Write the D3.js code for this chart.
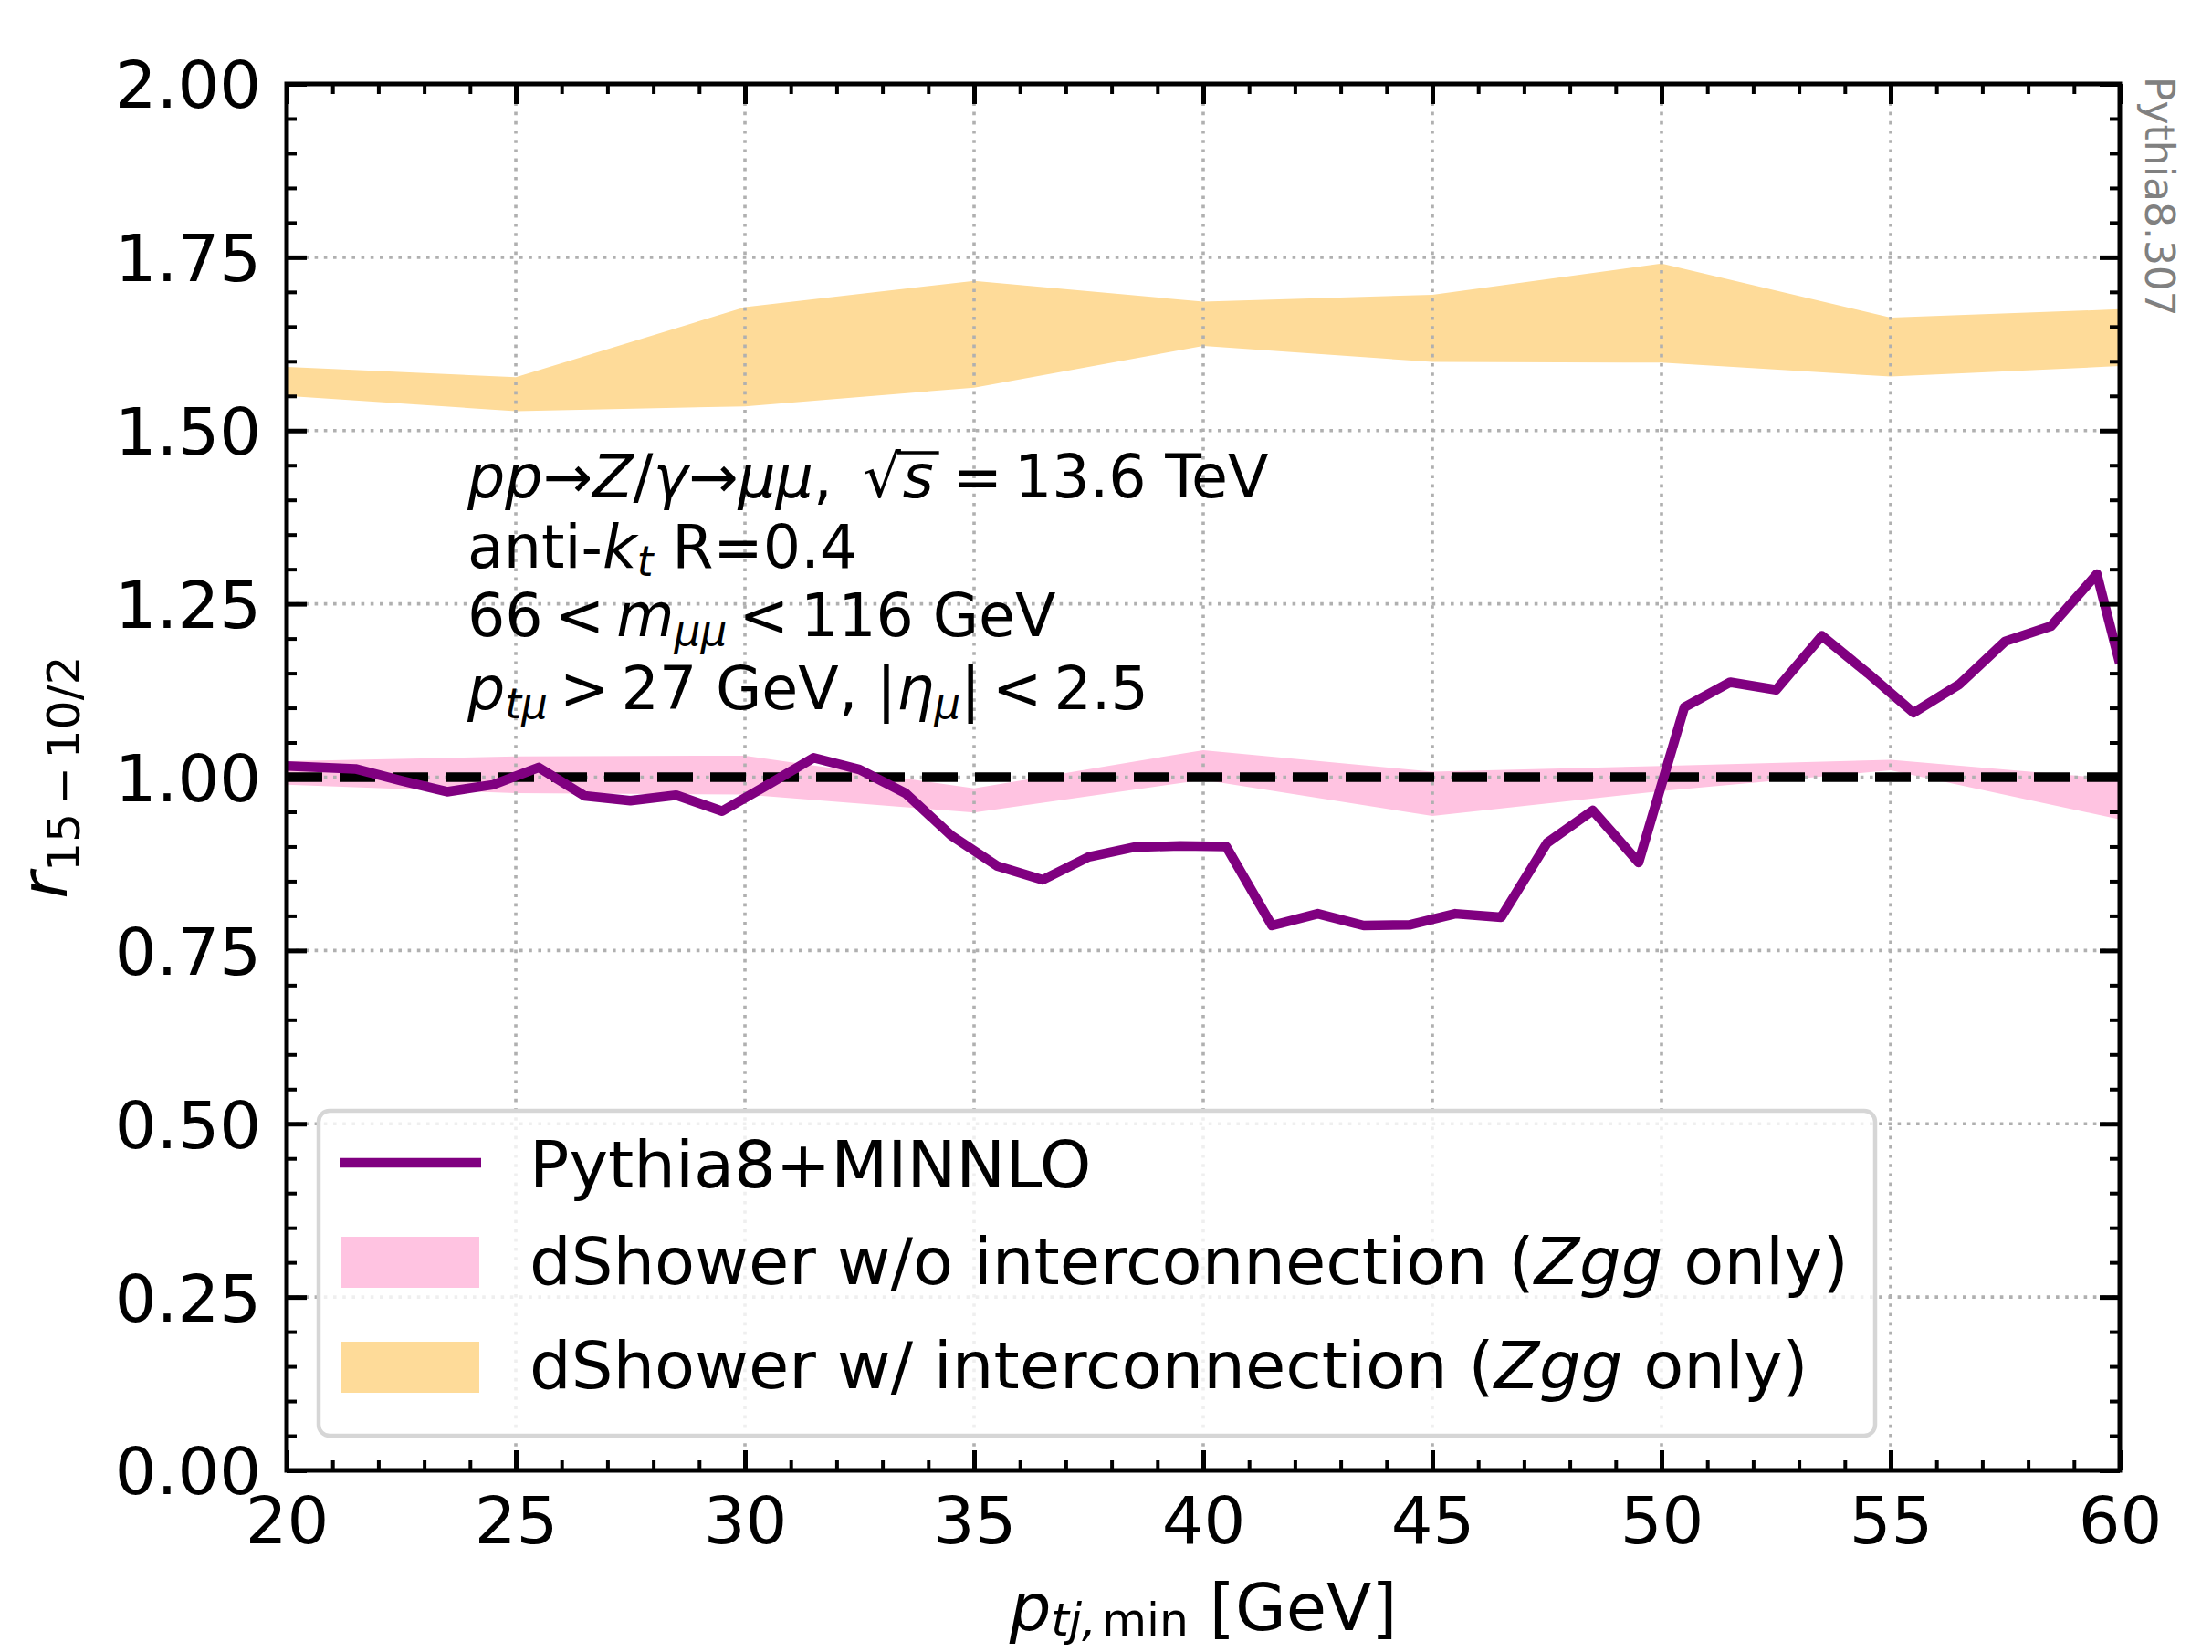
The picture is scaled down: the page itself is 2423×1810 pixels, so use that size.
<!DOCTYPE html>
<html>
<head>
<meta charset="utf-8">
<script src="https://cdn.jsdelivr.net/npm/d3@7"></script>
<style>
  body { margin: 0; background: #ffffff; }
  text { font-family: "DejaVu Sans", "Noto Sans", sans-serif; white-space: pre; }
</style>
</head>
<body>
<svg id="chart" width="2423" height="1810"></svg>
<script>
// ---- data -------------------------------------------------------------
// dShower bands are given at the 5 GeV grid points
const bandX = [20, 25, 30, 35, 40, 45, 50, 55, 60];
const withInterLow  = [1.550, 1.528, 1.535, 1.562, 1.622, 1.599, 1.598, 1.578, 1.593];
const withInterHigh = [1.592, 1.577, 1.678, 1.716, 1.686, 1.696, 1.741, 1.663, 1.675];
const noInterLow    = [0.989, 0.977, 0.975, 0.949, 0.996, 0.944, 0.980, 1.010, 0.939];
const noInterHigh   = [1.023, 1.030, 1.031, 0.984, 1.039, 1.008, 1.016, 1.025, 0.997];

// Pythia8+MINNLO ratio, 1 GeV bins
const minnloX = [20, 21.5, 22.5, 23.5, 24.5, 25.5, 26.5, 27.5, 28.5, 29.5, 30.5,
                 31.5, 32.5, 33.5, 34.5, 35.5, 36.5, 37.5, 38.5, 39.5, 40.5,
                 41.5, 42.5, 43.5, 44.5, 45.5, 46.5, 47.5, 48.5, 49.5, 50.5,
                 51.5, 52.5, 53.5, 54.5, 55.5, 56.5, 57.5, 58.5, 59.5, 60];
const minnloY = [1.016, 1.012, 0.995, 0.979, 0.989, 1.014, 0.973, 0.966, 0.974, 0.951, 0.989,
                 1.028, 1.011, 0.977, 0.916, 0.872, 0.852, 0.885, 0.899, 0.901, 0.900,
                 0.786, 0.803, 0.786, 0.787, 0.803, 0.798, 0.905, 0.952, 0.877, 1.101,
                 1.137, 1.126, 1.204, 1.150, 1.093, 1.134, 1.196, 1.218, 1.293, 1.164];

const xTicks = [20, 25, 30, 35, 40, 45, 50, 55, 60];
const yTicks = [0, 0.25, 0.5, 0.75, 1.0, 1.25, 1.5, 1.75, 2.0];
const yTickLabels = ["0.00", "0.25", "0.50", "0.75", "1.00", "1.25", "1.50", "1.75", "2.00"];

// ---- setup ------------------------------------------------------------
const svg = d3.select("#chart");
const L = 314, R = 2322, T = 92, B = 1611;
const x = d3.scaleLinear().domain([20, 60]).range([L, R]);
const y = d3.scaleLinear().domain([0, 2]).range([B, T]);

const colPurple = "#800080";
const colPink = "rgb(255,195,225)";
const colOrange = "rgb(254,219,153)";
const TICKFONT = 72;

svg.append("rect").attr("width", 2423).attr("height", 1810).attr("fill", "#ffffff");

svg.append("defs").append("clipPath").attr("id", "plotclip")
  .append("rect").attr("x", L).attr("y", T).attr("width", R - L).attr("height", B - T);

const plot = svg.append("g").attr("clip-path", "url(#plotclip)");

// ---- bands ------------------------------------------------------------
const band = (lo, hi) => d3.area()
  .x((d, i) => x(bandX[i]))
  .y0((d, i) => y(lo[i]))
  .y1((d, i) => y(hi[i]));

plot.append("path").attr("d", band(withInterLow, withInterHigh)(bandX))
  .attr("fill", colOrange);
plot.append("path").attr("d", band(noInterLow, noInterHigh)(bandX))
  .attr("fill", colPink);

// ---- grid (drawn over the filled bands, under the lines) -------------
const grid = plot.append("g").attr("stroke", "#b0b0b0").attr("stroke-width", 3.6)
  .attr("stroke-dasharray", "3.6,6.6");
grid.selectAll("line.gx").data(xTicks).join("line").attr("class", "gx")
  .attr("x1", d => x(d)).attr("x2", d => x(d)).attr("y1", T).attr("y2", B);
grid.selectAll("line.gy").data(yTicks).join("line").attr("class", "gy")
  .attr("x1", L).attr("x2", R).attr("y1", d => y(d)).attr("y2", d => y(d));

// ---- reference line at 1 and MINNLO curve ----------------------------
plot.append("line").attr("x1", x(20)).attr("x2", x(60)).attr("y1", y(1)).attr("y2", y(1))
  .attr("stroke", "#000").attr("stroke-width", 10.5).attr("stroke-dasharray", "39,19");

const line = d3.line().x((d, i) => x(minnloX[i])).y(d => y(d));
plot.append("path").attr("d", line(minnloY)).attr("fill", "none")
  .attr("stroke", colPurple).attr("stroke-width", 10.5).attr("stroke-linejoin", "round");

// ---- axes -------------------------------------------------------------
const minorX = d3.range(20, 60.001, 1).filter(v => v % 5 !== 0);
const minorY = d3.range(0, 2.0001, 0.05).map(v => +v.toFixed(2))
  .filter(v => Math.abs(v / 0.25 - Math.round(v / 0.25)) > 1e-6);

function styleAxis(g) {
  g.select(".domain").remove();
  g.selectAll(".tick line").attr("stroke", "#000");
  g.selectAll(".tick text").attr("fill", "#000").attr("font-size", TICKFONT)
    .attr("font-family", "DejaVu Sans");
}

// bottom
svg.append("g").attr("transform", `translate(0,${B})`)
  .call(d3.axisBottom(x).tickValues(xTicks).tickFormat(d3.format("d"))
    .tickSizeInner(-22).tickSizeOuter(0).tickPadding(29))
  .call(styleAxis).call(g => g.selectAll(".tick line").attr("stroke-width", 5));
svg.append("g").attr("transform", `translate(0,${B})`)
  .call(d3.axisBottom(x).tickValues(minorX).tickFormat("").tickSizeInner(-11).tickSizeOuter(0))
  .call(styleAxis).call(g => g.selectAll(".tick line").attr("stroke-width", 4));
// top
svg.append("g").attr("transform", `translate(0,${T})`)
  .call(d3.axisTop(x).tickValues(xTicks).tickFormat("").tickSizeInner(-22).tickSizeOuter(0))
  .call(styleAxis).call(g => g.selectAll(".tick line").attr("stroke-width", 5));
svg.append("g").attr("transform", `translate(0,${T})`)
  .call(d3.axisTop(x).tickValues(minorX).tickFormat("").tickSizeInner(-11).tickSizeOuter(0))
  .call(styleAxis).call(g => g.selectAll(".tick line").attr("stroke-width", 4));
// left
svg.append("g").attr("transform", `translate(${L},0)`)
  .call(d3.axisLeft(y).tickValues(yTicks).tickFormat((d, i) => yTickLabels[i])
    .tickSizeInner(-22).tickSizeOuter(0).tickPadding(28))
  .call(styleAxis).call(g => g.selectAll(".tick line").attr("stroke-width", 5))
  .call(g => g.selectAll(".tick text").attr("dy", "0.36em"));
svg.append("g").attr("transform", `translate(${L},0)`)
  .call(d3.axisLeft(y).tickValues(minorY).tickFormat("").tickSizeInner(-11).tickSizeOuter(0))
  .call(styleAxis).call(g => g.selectAll(".tick line").attr("stroke-width", 4));
// right
svg.append("g").attr("transform", `translate(${R},0)`)
  .call(d3.axisRight(y).tickValues(yTicks).tickFormat("").tickSizeInner(-22).tickSizeOuter(0))
  .call(styleAxis).call(g => g.selectAll(".tick line").attr("stroke-width", 5));
svg.append("g").attr("transform", `translate(${R},0)`)
  .call(d3.axisRight(y).tickValues(minorY).tickFormat("").tickSizeInner(-11).tickSizeOuter(0))
  .call(styleAxis).call(g => g.selectAll(".tick line").attr("stroke-width", 4));

// frame
svg.append("rect").attr("x", L).attr("y", T).attr("width", R - L).attr("height", B - T)
  .attr("fill", "none").attr("stroke", "#000").attr("stroke-width", 5);

// ---- rich text helper (italic runs, subscripts, gaps) -----------------
function richText(parent, x0, y0, runs, size, subShift) {
  const g = parent.append("g");
  const drop = subShift === undefined ? size * 0.16 : subShift;
  let cx = x0;
  const placed = [];
  runs.forEach(r => {
    if (r.gap !== undefined) { cx += r.gap * size; return; }
    const fs = r.sub ? size * 0.7 : size;
    const t = g.append("text")
      .attr("x", cx).attr("y", y0 + (r.sub ? drop : 0))
      .attr("font-size", fs)
      .attr("font-style", r.it ? "italic" : "normal")
      .attr("fill", "#000")
      .attr("xml:space", "preserve")
      .text(r.t);
    const w = t.node().getComputedTextLength();
    placed.push({ x0: cx, x1: cx + w, run: r, node: t });
    cx += w;
  });
  return { g, width: cx - x0, placed };
}

// ---- process annotation ------------------------------------------------
const ANN = 65, annX = 512, REL = 0.2;
const l1 = richText(svg, annX, 545, [
  { t: "pp", it: true }, { t: "→" }, { t: "Z", it: true }, { t: "/" }, { t: "γ", it: true },
  { t: "→" }, { t: "μμ", it: true }, { t: ", " }, { gap: 0.2 },
  { t: "√" }, { gap: 0.03 }, { t: "s", it: true, root: true }, { gap: 0.12 + REL }, { t: "=" }, { gap: REL },
  { t: "13.6" }, { t: " TeV" }
], ANN);
const sRun = l1.placed.find(p => p.run.root);
const rootRun = l1.placed.find(p => p.run.t === "√");
svg.append("line").attr("x1", rootRun.x1 - 4).attr("x2", sRun.x1 + 6)
  .attr("y1", 496).attr("y2", 496).attr("stroke", "#000").attr("stroke-width", 3.5);

richText(svg, annX, 622, [
  { t: "anti-" }, { t: "k", it: true }, { t: "t", it: true, sub: true }, { t: " R=0.4" }
], ANN, 9);
richText(svg, annX, 697, [
  { t: "66" }, { gap: REL }, { t: "<" }, { gap: REL }, { t: "m", it: true },
  { t: "μμ", it: true, sub: true }, { gap: REL }, { t: "<" }, { gap: REL }, { t: "116" }, { t: " GeV" }
], ANN);
richText(svg, annX, 777, [
  { t: "p", it: true }, { t: "tμ", it: true, sub: true }, { gap: REL }, { t: ">" }, { gap: REL },
  { t: "27" }, { t: " GeV, " }, { t: "|" }, { t: "η", it: true }, { t: "μ", it: true, sub: true },
  { t: "|" }, { gap: REL }, { t: "<" }, { gap: REL }, { t: "2.5" }
], ANN);

// ---- axis titles ------------------------------------------------------
const xl = richText(svg, 0, 1786, [
  { t: "p", it: true }, { t: "tj,", it: true, sub: true }, { gap: 0.08 }, { t: "min", sub: true },
  { t: " [GeV]" }
], 72, 6);
xl.g.attr("transform", `translate(${(L + R) / 2 - xl.width / 2},0)`);

const ylg = svg.append("g").attr("transform", `translate(73,${(T + B) / 2}) rotate(-90)`);
const yl = richText(ylg, 0, 0, [
  { t: "r", it: true }, { t: "15", sub: true }, { gap: 0.12 }, { t: "−", sub: true }, { gap: 0.12 },
  { t: "10/2", sub: true }
], 72, 14);
yl.g.attr("transform", `translate(${-yl.width / 2},0)`);

svg.append("text").attr("transform", "translate(2350,84) rotate(90)")
  .attr("font-size", 44).attr("fill", "#808080").text("Pythia8.307");

// ---- legend -----------------------------------------------------------
const leg = svg.append("g");
leg.append("rect").attr("x", 349).attr("y", 1217).attr("width", 1705).attr("height", 356)
  .attr("rx", 12).attr("fill", "#ffffff").attr("fill-opacity", 0.8)
  .attr("stroke", "#d6d6d6").attr("stroke-width", 4.5);

const legendItems = [
  { kind: "line", color: colPurple, cy: 1274, base: 1301,
    runs: [{ t: "Pythia8+MINNLO" }] },
  { kind: "patch", color: colPink, cy: 1383, base: 1407,
    runs: [{ t: "dShower w/o interconnection (" }, { t: "Zgg", it: true }, { t: " only)" }] },
  { kind: "patch", color: colOrange, cy: 1498, base: 1521,
    runs: [{ t: "dShower w/ interconnection (" }, { t: "Zgg", it: true }, { t: " only)" }] }
];
legendItems.forEach(it => {
  if (it.kind === "line") {
    leg.append("line").attr("x1", 372).attr("x2", 527).attr("y1", it.cy).attr("y2", it.cy)
      .attr("stroke", it.color).attr("stroke-width", 10.5);
  } else {
    leg.append("rect").attr("x", 373).attr("y", it.cy - 28).attr("width", 152).attr("height", 56)
      .attr("fill", it.color);
  }
  richText(leg, 580, it.base, it.runs, 72);
});
</script>
</body>
</html>
